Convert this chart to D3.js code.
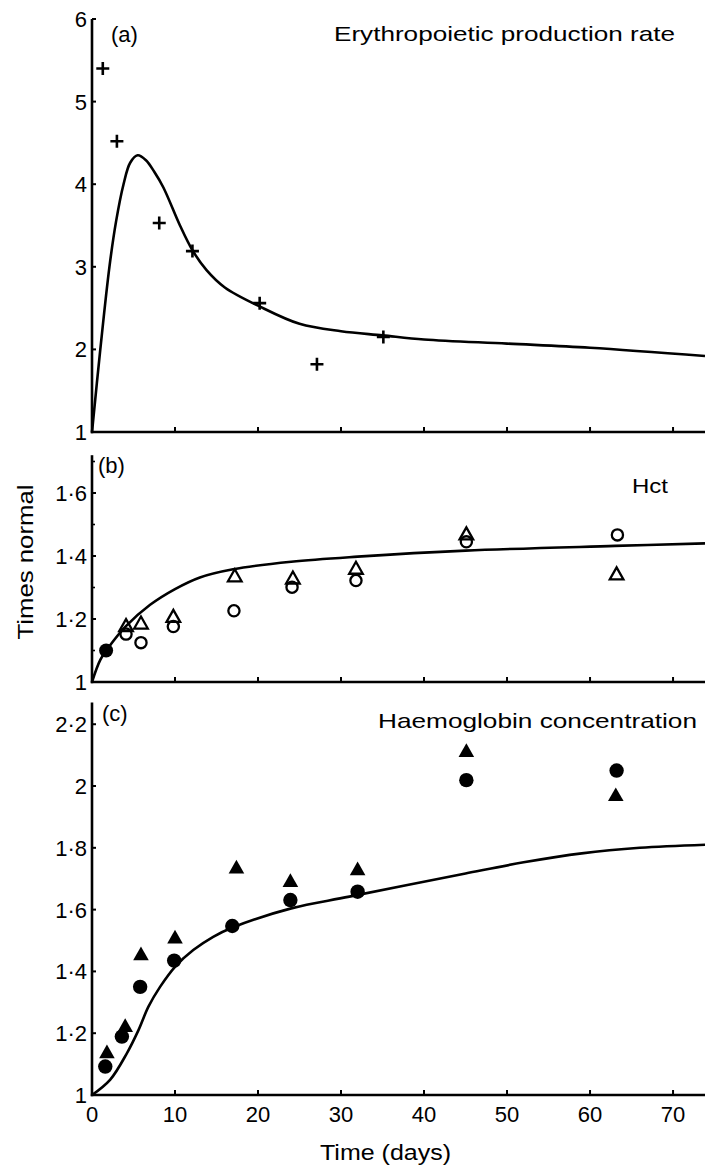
<!DOCTYPE html>
<html><head><meta charset="utf-8">
<script src="https://cdn.jsdelivr.net/npm/d3@7"></script>
<style>
body{margin:0;background:#fff}
text{font-family:"Liberation Sans",Arial,Helvetica,sans-serif;fill:#000}
</style>
</head><body>
<svg id="chart" width="705" height="1165"></svg>
<script>
// ---------- data ----------
const xTicks = [0, 10, 20, 30, 40, 50, 60, 70];

// (a) Erythropoietic production rate
const eprDays   = [1.3, 3.0, 8.1, 12.1, 20.2, 27.1, 35.1];
const eprValues = [5.40, 4.52, 3.53, 3.19, 2.56, 1.82, 2.15];
const eprModelDays   = [0, 1.0, 2.1, 2.9, 3.8, 4.6, 5.5, 6.5, 7.5, 8.6, 10.6, 12.1, 13.8, 16, 20.2, 25, 30, 35, 40, 50, 60, 73.85];
const eprModelValues = [1, 2.0, 3.0, 3.55, 4.0, 4.26, 4.35, 4.29, 4.15, 3.96, 3.5, 3.2, 2.96, 2.75, 2.52, 2.31, 2.22, 2.17, 2.12, 2.07, 2.02, 1.92];
const aTicks = [1, 2, 3, 4, 5, 6];

// (b) Hct
const hctCircleDays   = [4.1, 5.9, 9.8, 17.1, 24.1, 31.8, 45.1, 63.3];
const hctCircleValues = [1.152, 1.125, 1.176, 1.226, 1.301, 1.322, 1.445, 1.467];
const hctTriangleDays   = [4.1, 5.9, 9.8, 17.2, 24.2, 31.8, 45.1, 63.2];
const hctTriangleValues = [1.176, 1.184, 1.205, 1.334, 1.327, 1.358, 1.467, 1.340];
const hctBothDays   = [1.7];
const hctBothValues = [1.10];
const hctModelDays   = [0, 1.0, 2.0, 4.0, 7.0, 10.0, 13.0, 17.0, 24.0, 32.0, 45.0, 63.0, 73.85];
const hctModelValues = [1, 1.07, 1.11, 1.175, 1.245, 1.295, 1.332, 1.358, 1.382, 1.398, 1.417, 1.432, 1.44];
const bTicks = [1, 1.2, 1.4, 1.6];
const bMinorTicks = [1.1, 1.3, 1.5, 1.7];

// (c) Haemoglobin concentration
const hbCircleDays   = [1.6, 3.6, 5.8, 9.9, 16.9, 23.9, 32.0, 45.1, 63.2];
const hbCircleValues = [1.092, 1.189, 1.350, 1.435, 1.547, 1.631, 1.658, 2.019, 2.050];
const hbTriangleDays   = [1.8, 4.0, 5.9, 10.0, 17.4, 23.9, 32.0, 45.1, 63.1];
const hbTriangleValues = [1.136, 1.221, 1.453, 1.507, 1.734, 1.690, 1.728, 2.111, 1.968];
const hbModelDays   = [0, 2.2, 4.2, 5.6, 6.8, 8.2, 10.0, 12.2, 14.6, 17.0, 24.0, 31.0, 45.0, 52.0, 59.0, 66.0, 73.85];
const hbModelValues = [1, 1.05, 1.135, 1.21, 1.286, 1.35, 1.415, 1.469, 1.512, 1.543, 1.604, 1.642, 1.717, 1.753, 1.782, 1.800, 1.81];
const cTicks = [1, 1.2, 1.4, 1.6, 1.8, 2, 2.2];

// ---------- drawing ----------
const svg = d3.select("#chart");
const x = d3.scaleLinear().domain([0, 73.85]).range([92, 705]);
const fmt = v => Number.isInteger(v) ? String(v) : v.toFixed(1).replace(".", "\u00B7");
const zip = (a, b) => a.map((d, i) => [d, b[i]]);

const panels = [
  {y: d3.scaleLinear().domain([1, 6]).range([432, 19]), ticks: aTicks, minor: []},
  {y: d3.scaleLinear().domain([1, 1.72]).range([682, 455.2]), ticks: bTicks, minor: bMinorTicks},
  {y: d3.scaleLinear().domain([1, 2.27]).range([1095, 702.6]), ticks: cTicks, minor: []}
];

panels.forEach(p => {
  const g = svg.append("g");
  const [y0, y1] = p.y.range();
  g.append("line").attr("x1", x(0)).attr("x2", x(0)).attr("y1", y1).attr("y2", y0 + 1.2)
    .attr("stroke", "#000").attr("stroke-width", 2.6);
  g.append("line").attr("x1", x(0) - 1.2).attr("x2", 705).attr("y1", y0).attr("y2", y0)
    .attr("stroke", "#000").attr("stroke-width", 2.6);
  g.selectAll(".yt").data(p.ticks).join("line")
    .attr("x1", x(0)).attr("x2", x(0) + 4).attr("y1", d => p.y(d)).attr("y2", d => p.y(d))
    .attr("stroke", "#000").attr("stroke-width", 2);
  g.selectAll(".ym").data(p.minor).join("line")
    .attr("x1", x(0)).attr("x2", x(0) + 3).attr("y1", d => p.y(d)).attr("y2", d => p.y(d))
    .attr("stroke", "#000").attr("stroke-width", 1.6);
  g.selectAll(".yl").data(p.ticks).join("text")
    .attr("x", 87).attr("y", d => p.y(d)).attr("dy", "0.36em")
    .attr("text-anchor", "end").attr("font-size", 22).text(fmt);
  g.selectAll(".xt").data(xTicks.filter(d => d > 0)).join("line")
    .attr("x1", d => x(d)).attr("x2", d => x(d)).attr("y1", y0).attr("y2", y0 - 5)
    .attr("stroke", "#000").attr("stroke-width", 2);
});

const lineGen = y => d3.line().x(d => x(d[0])).y(d => y(d[1])).curve(d3.curveCatmullRom.alpha(0.5));
const curveStyle = sel => sel.attr("fill", "none").attr("stroke", "#000").attr("stroke-width", 2.6);

// (a)
const ya = panels[0].y;
svg.append("path").datum(zip(eprModelDays, eprModelValues)).attr("d", lineGen(ya)).call(curveStyle);
svg.selectAll(".cross").data(zip(eprDays, eprValues)).join("path")
  .attr("transform", d => `translate(${x(d[0])},${ya(d[1])})`)
  .attr("d", "M-6.5,0H6.5M0,-6.5V6.5").attr("stroke", "#000").attr("stroke-width", 2.6);

// (b)
const yb = panels[1].y;
svg.append("path").datum(zip(hctModelDays, hctModelValues)).attr("d", lineGen(yb)).call(curveStyle);
const triPath = "M0,-7.5L6.8,4.5L-6.8,4.5Z";
const bigTri = "M0,-8.5L7.8,5.2L-7.8,5.2Z";
svg.append("g").selectAll("circle").data(zip(hctCircleDays, hctCircleValues)).join("circle")
  .attr("cx", d => x(d[0])).attr("cy", d => yb(d[1])).attr("r", 5.6)
  .attr("fill", "none").attr("stroke", "#000").attr("stroke-width", 2.3);
svg.append("g").selectAll("path").data(zip(hctTriangleDays, hctTriangleValues)).join("path")
  .attr("transform", d => `translate(${x(d[0])},${yb(d[1])})`).attr("d", triPath)
  .attr("fill", "none").attr("stroke", "#000").attr("stroke-width", 2.3);
svg.append("g").selectAll("circle").data(zip(hctBothDays, hctBothValues)).join("circle")
  .attr("cx", d => x(d[0])).attr("cy", d => yb(d[1])).attr("r", 7).attr("fill", "#000");

// (c)
const yc = panels[2].y;
svg.append("path").datum(zip(hbModelDays, hbModelValues)).attr("d", lineGen(yc)).call(curveStyle);
svg.append("g").selectAll("circle").data(zip(hbCircleDays, hbCircleValues)).join("circle")
  .attr("cx", d => x(d[0])).attr("cy", d => yc(d[1])).attr("r", 7.2).attr("fill", "#000");
svg.append("g").selectAll("path").data(zip(hbTriangleDays, hbTriangleValues)).join("path")
  .attr("transform", d => `translate(${x(d[0])},${yc(d[1])})`).attr("d", bigTri).attr("fill", "#000");

// x tick labels
svg.selectAll(".xl").data(xTicks).join("text")
  .attr("x", d => x(d)).attr("y", 1122).attr("text-anchor", "middle").attr("font-size", 22).text(d => d);

// texts
const label = (t, xx, yy, size, len) => {
  const s = svg.append("text").attr("x", xx).attr("y", yy).attr("font-size", size).text(t);
  if (len) s.attr("textLength", len).attr("lengthAdjust", "spacingAndGlyphs");
  return s;
};
label("(a)", 111, 42, 22);
label("Erythropoietic production rate", 334, 41, 21, 341);
label("(b)", 98, 473, 22);
label("Hct", 632, 493, 21, 36);
label("(c)", 102, 721, 22);
label("Haemoglobin concentration", 378, 728, 21, 319);
label("Time (days)", 320, 1160, 22, 131);
svg.append("text").attr("transform", "translate(33,562) rotate(-90)")
  .attr("text-anchor", "middle").attr("font-size", 22)
  .attr("textLength", 155).attr("lengthAdjust", "spacingAndGlyphs").text("Times normal");
</script>
</body></html>
